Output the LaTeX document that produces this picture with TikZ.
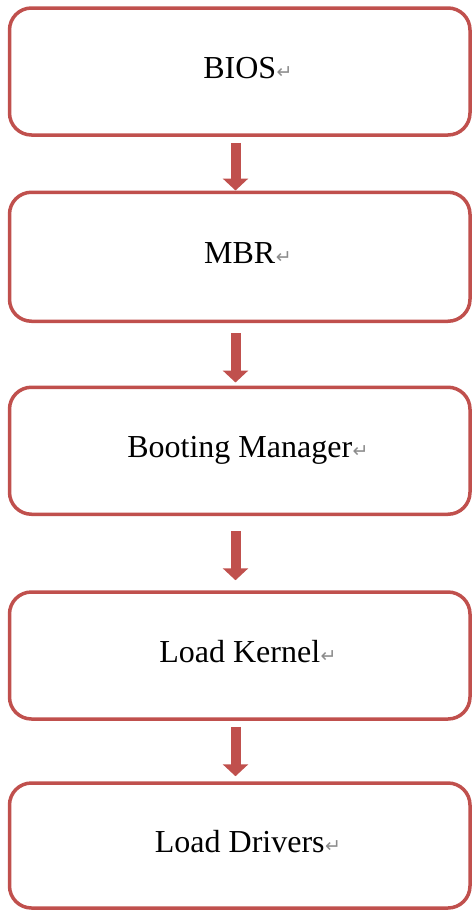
\documentclass[tikz,border=0pt]{standalone}
\usepackage{fontspec}
\setmainfont{Liberation Serif}
\newfontfamily\retfont{DejaVu Sans}
\usetikzlibrary{arrows.meta}
\definecolor{accred}{RGB}{192,80,77}
\newcommand{\retmark}{\rlap{\kern0.5pt{\retfont\fontsize{19}{19}\selectfont\color{gray!90}↵}}}
\tikzset{
  stepbox/.style={draw=accred, line width=3.5pt, rounded corners=22pt,
    minimum width=460.5pt, minimum height=127pt, inner sep=0pt,
    font=\fontsize{32}{36}\selectfont, text=black,
    text height=22pt, text depth=8pt},
  flow/.style={draw=accred, line width=10pt,
    -{Triangle[width=25pt,length=12pt]}},
}
\begin{document}
\begin{tikzpicture}[x=1pt,y=-1pt]
\useasboundingbox (0,0) rectangle (474,911);
\node[stepbox] (b1) at (239.75,71.5) {BIOS\retmark};
\node[stepbox, minimum height=129pt] (b2) at (239.75,256.75) {MBR\retmark};
\node[stepbox] (b3) at (239.75,450.75) {Booting Manager\retmark};
\node[stepbox] (b4) at (239.75,655.5) {Load Kernel\retmark};
\node[stepbox, minimum height=125pt] (b5) at (239.75,845.5) {Load Drivers\retmark};
\draw[flow, shorten <=6pt] ([xshift=-4.25pt]b1.south) -- ([xshift=-4.25pt]b2.north);
\draw[flow, shorten <=10pt, shorten >=3pt] ([xshift=-4.25pt]b2.south) -- ([xshift=-4.25pt]b3.north);
\draw[flow, shorten <=15pt, shorten >=10pt] ([xshift=-4.25pt]b3.south) -- ([xshift=-4.25pt]b4.north);
\draw[flow, shorten <=6pt, shorten >=5pt] ([xshift=-4.25pt]b4.south) -- ([xshift=-4.25pt]b5.north);
\end{tikzpicture}
\end{document}
